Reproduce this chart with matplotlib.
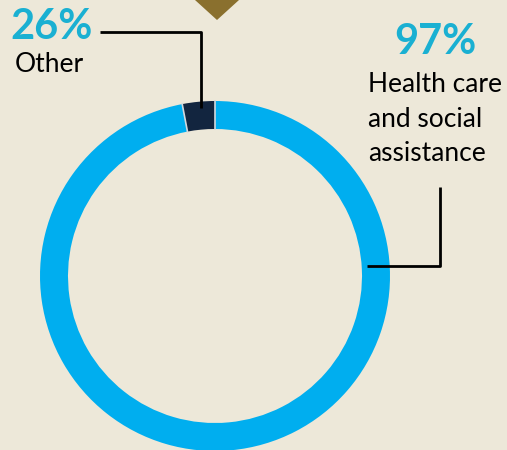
import matplotlib
matplotlib.use("Agg")
import matplotlib.pyplot as plt
import numpy as np
from matplotlib.patches import Polygon

categories = ["Other", "Health care and social assistance"]
values = [3, 97]
pct_labels = ["26%", "97%"]
colors = ["#12253f", "#00aeef"]

W, H = 507, 450
fig = plt.figure(figsize=(W / 100, H / 100), dpi=100)
bg = "#ede8d9"
fig.patch.set_facecolor(bg)
ax = fig.add_axes([0, 0, 1, 1])
ax.set_facecolor(bg)

def Y(py):
    return H - py

cx, cy, R, ring = 215, Y(276), 175, 28
ax.pie(values, colors=colors, startangle=90, counterclock=True,
       radius=R, center=(cx, cy), frame=True,
       wedgeprops=dict(width=ring, edgecolor="none", linewidth=0))

# light separators between segments
cum = np.cumsum([0] + values)
for c in cum[:-1]:
    a = np.deg2rad(90 + 360 * c / sum(values))
    ax.plot([cx + (R - ring) * np.cos(a), cx + R * np.cos(a)],
            [cy + (R - ring) * np.sin(a), cy + R * np.sin(a)],
            color="#d4d8dc", lw=1.2)

# gold marker at top
ax.add_patch(Polygon([(195, Y(0)), (239, Y(0)), (217, Y(20))], closed=True,
                     facecolor="#8a702e", edgecolor="none"))

# connector lines
ax.plot([100, 201, 201], [Y(32), Y(32), Y(108)], color="black", lw=2, solid_capstyle="butt")
ax.plot([367, 440, 440], [Y(266), Y(266), Y(187)], color="black", lw=2, solid_capstyle="butt")

font = ["Lato", "DejaVu Sans"]
cyan = "#1ab0d2"
ax.text(52, Y(27), pct_labels[0], color=cyan, fontsize=30, fontweight="bold",
        ha="center", va="center", family=font)
ax.text(49, Y(64), categories[0], color="black", fontsize=19,
        ha="center", va="center", family=font)
ax.text(435, Y(42), pct_labels[1], color=cyan, fontsize=30, fontweight="bold",
        ha="center", va="center", family=font)
ax.text(368, Y(72), "Health care\nand social\nassistance", color="black", fontsize=19,
        ha="left", va="top", family=font, linespacing=1.48)

ax.set_xlim(0, W)
ax.set_ylim(0, H)
ax.set_aspect("equal")
ax.axis("off")
fig.savefig("out.png", dpi=100, facecolor=bg)
